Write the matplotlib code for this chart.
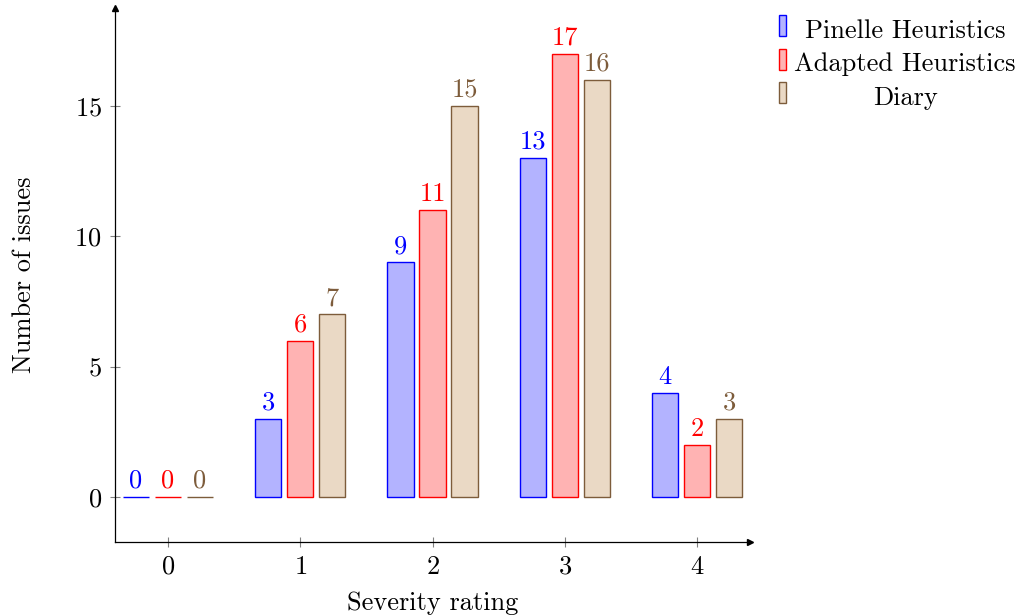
import numpy as np
import matplotlib.pyplot as plt
from matplotlib.patches import Rectangle

plt.rcParams['font.family'] = 'cmr10'
plt.rcParams['mathtext.fontset'] = 'cm'
plt.rcParams['axes.formatter.use_mathtext'] = True

# data
severity = [0, 1, 2, 3, 4]
series_names = ['Pinelle Heuristics', 'Adapted Heuristics', 'Diary']
pinelle = [0, 3, 9, 13, 4]
adapted = [0, 6, 11, 17, 2]
diary = [0, 7, 15, 16, 3]

fills = [(0.7, 0.7, 1.0), (1.0, 0.7, 0.7), '#ead9c5']
edges = ['blue', 'red', '#7d5c3b']
label_colors = ['blue', 'red', '#7d5c3b']

fs = 19

fig = plt.figure(figsize=(10.19, 6.16), dpi=100)
ax = fig.add_axes([115 / 1019, 74 / 616, 635 / 1019, 534 / 616])

x = np.array(severity)
offsets = [-0.242, 0.0, 0.242]
width = 0.2
for vals, off, fc, ec, lc in zip([pinelle, adapted, diary], offsets, fills, edges, label_colors):
    bars = ax.bar(x + off, vals, width=width, color=fc, edgecolor=ec, linewidth=1.0)
    for b, v in zip(bars, vals):
        ax.annotate(str(v), (b.get_x() + b.get_width() / 2, v), xytext=(0, 3),
                    textcoords='offset points', ha='center', va='bottom',
                    color=lc, fontsize=fs)

ax.set_xlim(-0.4, 4.4)
ax.set_ylim(-1.73, 18.76)
ax.set_xticks(severity)
ax.set_yticks([0, 5, 10, 15])
ax.tick_params(direction='inout', length=7, width=0.8, color='gray', labelsize=fs, pad=6)
for s in ['top', 'right']:
    ax.spines[s].set_visible(False)
for s in ['left', 'bottom']:
    ax.spines[s].set_linewidth(0.9)
ax.plot(1, 0, '>k', markersize=4, transform=ax.transAxes, clip_on=False)
ax.plot(0, 1, '^k', markersize=4, transform=ax.transAxes, clip_on=False)

ax.set_xlabel('Severity rating', fontsize=fs, labelpad=9)
ax.set_ylabel('Number of issues', fontsize=fs, labelpad=28)

# legend drawn outside, to the right
for i, (name, fc, ec) in enumerate(zip(series_names, fills, edges)):
    ytop = 1 - (15 + i * 33.5) / 616
    fig.add_artist(Rectangle((779 / 1019, ytop - 21 / 616), 7 / 1019, 21 / 616,
                             facecolor=fc, edgecolor=ec, linewidth=1.0,
                             transform=fig.transFigure))
    fig.text(905 / 1019, ytop - 16 / 616, name, ha='center', va='center', fontsize=fs)

plt.savefig('out.png', dpi=100)
